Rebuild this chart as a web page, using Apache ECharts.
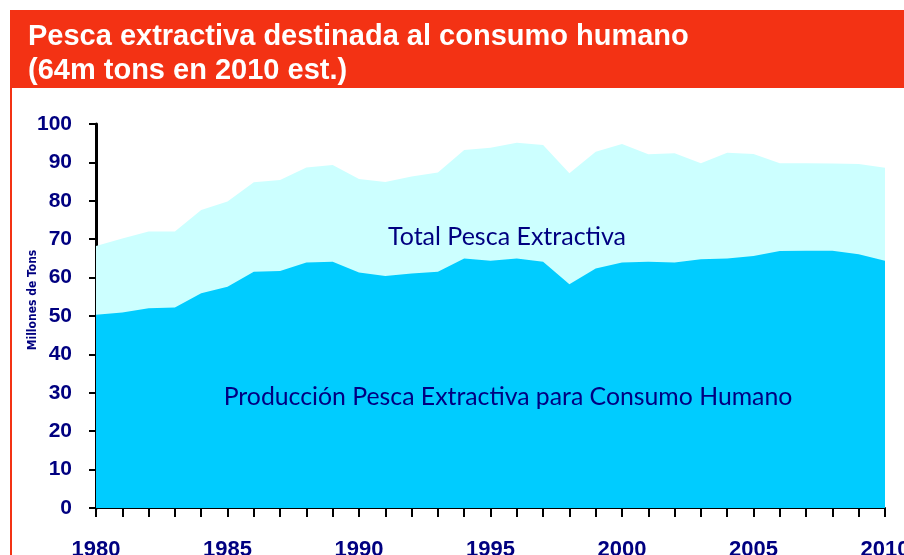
<!DOCTYPE html>
<html>
<head>
<meta charset="utf-8">
<script src="https://cdn.jsdelivr.net/npm/echarts@6/dist/echarts.min.js"></script>
<style>
  html, body { margin: 0; padding: 0; background: #fff; }
  #chart { width: 904px; height: 555px; }
</style>
</head>
<body>
<div id="chart"></div>
<script>
// años
const years = [];
for (let y = 1980; y <= 2010; y++) years.push(String(y));

// total pesca extractiva (millones de tons)
const totalCatch = [68.2, 70.2, 72.0, 72.0, 77.6, 79.8, 84.8, 85.4, 88.7, 89.3,
  85.7, 84.9, 86.3, 87.4, 93.2, 93.8, 95.1, 94.5, 87.2, 92.8,
  94.8, 92.1, 92.4, 89.8, 92.5, 92.2, 89.8, 89.8, 89.7, 89.6, 88.6];

// producción para consumo humano
const humanUse = [50.3, 50.9, 52.0, 52.2, 55.9, 57.6, 61.5, 61.7, 63.9, 64.1,
  61.3, 60.4, 61.1, 61.5, 65.0, 64.4, 65.0, 64.1, 58.3, 62.4,
  63.9, 64.1, 63.9, 64.8, 65.0, 65.6, 66.9, 67.0, 67.0, 66.1, 64.4];

const red = "#F33214";
const navy = "#000080";

const chart = echarts.init(document.getElementById("chart"));
chart.setOption({
  animation: false,
  title: {
    text: "Pesca extractiva destinada al consumo humano\n(64m tons en 2010 est.)",
    left: 23,
    top: 15,
    textStyle: {
      color: "#fff",
      fontFamily: "Liberation Sans",
      fontWeight: "bold",
      fontSize: 29,
      lineHeight: 34,
    },
    z: 10,
  },
  graphic: [
    {
      type: "rect",
      shape: { x: 10, y: 10, width: 894, height: 78 },
      style: { fill: red },
      z: 0,
    },
    {
      type: "line",
      shape: { x1: 11, y1: 88, x2: 11, y2: 555 },
      style: { stroke: red, lineWidth: 2 },
    },
    {
      type: "text",
      x: 33,
      y: 300,
      rotation: Math.PI / 2,
      style: {
        text: "Millones de Tons",
        fill: navy,
        font: "bold 12px 'DejaVu Sans Condensed'",
        align: "center",
        verticalAlign: "middle",
      },
    },
    {
      type: "text",
      x: 507,
      y: 237,
      z: 10,
      style: {
        text: "Total Pesca Extractiva",
        fill: navy,
        font: "25px Lato",
        align: "center",
        verticalAlign: "middle",
      },
    },
    {
      type: "text",
      x: 508,
      y: 397,
      z: 10,
      style: {
        text: "Producción Pesca Extractiva para Consumo Humano",
        fill: navy,
        font: "24.8px Lato",
        align: "center",
        verticalAlign: "middle",
      },
    },
  ],
  grid: { left: 96, right: 19, top: 124, bottom: 47, outerBoundsMode: "none" },
  xAxis: {
    type: "category",
    data: years,
    boundaryGap: false,
    axisLine: { lineStyle: { color: "#000", width: 2 } },
    axisTick: { interval: 0, length: 9, lineStyle: { color: "#000", width: 2 } },
    axisLabel: {
      interval: 4,
      margin: 31,
      color: navy,
      fontFamily: "Liberation Sans",
      fontWeight: "bold",
      fontSize: 22,
    },
  },
  yAxis: {
    type: "value",
    min: 0,
    max: 100,
    interval: 10,
    axisLine: { show: true, lineStyle: { color: "#000", width: 3 } },
    axisTick: { show: true, length: 7, lineStyle: { color: "#000", width: 2 } },
    splitLine: { show: false },
    axisLabel: {
      margin: 24,
      color: navy,
      fontFamily: "Liberation Sans",
      fontWeight: "bold",
      fontSize: 21,
    },
  },
  series: [
    {
      name: "Total Pesca Extractiva",
      type: "line",
      data: totalCatch,
      symbol: "none",
      lineStyle: { width: 0 },
      areaStyle: { color: "#CCFFFF", opacity: 1 },
    },
    {
      name: "Producción Pesca Extractiva para Consumo Humano",
      type: "line",
      data: humanUse,
      symbol: "none",
      lineStyle: { width: 0 },
      areaStyle: { color: "#00CCFF", opacity: 1 },
    },
  ],
});
</script>
</body>
</html>
